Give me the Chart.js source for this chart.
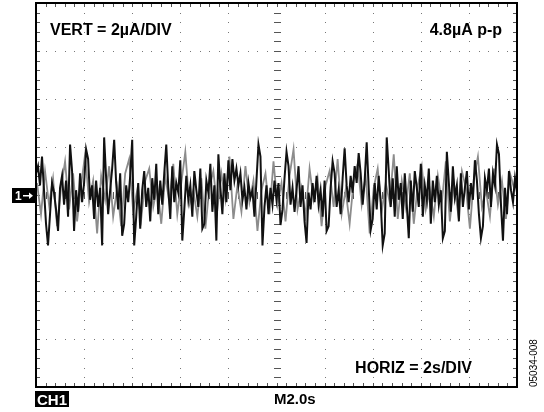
<!DOCTYPE html>
<html>
<head>
<meta charset="utf-8">
<script src="https://cdn.jsdelivr.net/npm/chart.js@4.4.0/dist/chart.umd.min.js"></script>
<style>
  html, body { margin: 0; padding: 0; background: #fff; }
  #wrap { width: 544px; height: 412px; position: relative; }
</style>
</head>
<body>
<div id="wrap"><canvas id="scope" width="544" height="412"></canvas></div>
<script>
// Trace samples in uA (2uA per division), 241 samples across 10 divisions (20 s)
const noiseUA = [
  0.9, 1.2, 0.4, 1.6, 0.2, -1.2, -2.1, -0.8, 0.5, 0.1,
  -0.6, -1.5, 0.3, 0.8, -0.4, 0.6, -0.9, 2.1, 1.0, -1.5,
  0.2, -0.7, 0.9, -0.3, 0.5, 1.9, 1.5, -0.2, 0.4, -1.0,
  0.6, -0.5, 0.3, -2.1, 2.4, 0.7, -0.8, 0.2, 1.1, 2.3,
  0.5, -0.6, 0.9, -1.7, -1.2, 0.4, -0.3, 0.8, 2.3, -2.1,
  -0.9, 0.5, -1.4, 0.2, 1.0, -0.5, 0.3, -1.1, 0.7, -0.2,
  1.3, -0.8, 0.6, -0.4, 0.9, 2.1, 0.3, -1.0, 1.2, -0.3,
  0.5, 0.1, 1.45, -1.9, -0.6, 0.8, -0.2, 0.4, -0.9, 1.0,
  0.2, -0.5, 1.1, -1.4, -1.2, 0.6, 0.1, 1.3, -0.7, 0.4,
  -1.9, 1.7, 0.3, -0.8, 0.9, -0.3, 1.45, 0.2, 1.5, 0.6,
  1.1, 0.4, 0.9, -0.2, 0.3, -0.6, 0.5, -0.1, 0.2, -0.9,
  0.6, 2.1, 1.6, -2.1, -0.5, 0.4, -0.8, 0.3, -0.4, 0.6,
  -0.2, 0.5, -1.25, -0.6, 0.7, 1.8, 1.2, -0.4, 0.3, -0.7,
  0.2, 1.2, -0.5, 0.4, -1.1, -2.0, 0.1, -0.6, 0.5, -0.3,
  0.8, -0.4, 0.2, -0.9, 0.6, -1.5, -1.3, 0.3, 1.4, 0.9,
  -0.5, 0.2, -0.8, 0.7, 1.95, 0.4, -0.3, 0.8, 0.1, 1.2,
  0.5, 1.75, 0.9, -0.4, 0.6, 2.2, 0.3, -1.45, -1.0, 0.5,
  -0.6, 0.8, -0.3, -2.1, -1.6, 2.4, 1.0, -0.5, 0.7, -0.9,
  1.2, -0.2, 0.5, -1.0, 0.9, -0.4, -1.8, 0.6, -0.7, 1.0,
  0.3, -0.5, 1.3, -0.9, 0.4, -0.2, 1.1, -1.2, 0.6, -0.3,
  0.8, -0.4, 0.2, -1.8, -1.5, 1.8, 0.5, -0.7, 1.2, -0.1,
  0.4, -1.1, 0.9, -0.5, 0.3, 1.0, -0.6, 0.5, -0.2, 1.45,
  0.6, -0.8, -1.8, -1.3, 0.7, 0.2, 1.1, -0.5, 0.9, 0.4,
  2.1, 1.7, -0.4, -1.9, 0.3, -0.8, 1.0, 0.2, -0.3, 0.7,
  0.1
];

// lighter (persistence) trace, 121 samples, half-sample offset
const ghostUA = [
  0.5, -0.8, 1.0, -0.4, 0.7, -1.3, 0.3, 1.4, -0.6, 0.9,
  -1.1, 0.4, 1.7, -0.3, 0.6, -1.6, 0.8, -0.2, 1.2, -0.9,
  0.3, -1.3, 0.9, 1.5, -0.7, 0.2, -1.0, 0.6, 1.1, -0.5,
  0.4, -1.2, 0.8, -0.3, 1.3, -0.8, 0.5, 1.8, -0.4, 0.2,
  -0.9, 0.7, -1.4, 0.3, 1.0, -0.6, 0.9, -0.2, 1.6, -1.0,
  0.4, -0.7, 1.2, -0.3, 0.6, -1.5, 0.2, 0.9, -0.8, 1.4,
  -0.4, 0.5, -1.1, 0.8, 1.9, -0.6, 0.3, -0.9, 1.1, -0.2,
  0.7, -1.3, 0.4, 1.0, -0.5, 1.5, -0.8, 0.2, -1.2, 0.6,
  1.3, -0.4, 0.8, -1.6, 0.3, 1.1, -0.7, 0.5, -0.3, 1.7,
  -1.0, 0.6, -0.5, 0.9, -1.2, 0.4, 1.2, -0.6, 0.2, -0.9,
  0.8, -0.3, 1.4, -1.1, 0.5, -0.7, 1.0, 0.3, -1.4, 0.7,
  1.6, -0.5, 0.2, -0.9, 1.1, -0.4, 0.6, -1.0, 0.9, 0.3,
  0.5
];

// Screen settings
const timeSpanS = 20;        // 10 div x 2 s
const vertSpanUA = [-8, 8];  // 8 div x 2 uA
const divX = 2, divY = 2;
const minorPerDiv = 5;

const labels = {
  vert: 'VERT = 2\u00b5A/DIV',
  pp: '4.8\u00b5A p-p',
  horiz: 'HORIZ = 2s/DIV',
  time: 'M2.0s',
  ch: 'CH1',
  marker: '1',
  fig: '05034-008'
};

const sampleS = timeSpanS / (noiseUA.length - 1);
const tracePoints = noiseUA.map((v, i) => ({ x: i * sampleS, y: v }));
const ghostPoints = ghostUA.map((v, i) => ({ x: (2 * i + 0.5) * sampleS, y: v }));

// graticule: dotted grid, centre cross ticks, edge ticks, labels
const graticule = {
  id: 'graticule',
  beforeDatasetsDraw(chart) {
    const { ctx, chartArea: a, scales: { x, y } } = chart;
    ctx.save();
    ctx.fillStyle = '#777';
    const xs = [], ys = [];
    for (let v = 0; v <= timeSpanS + 1e-9; v += divX / minorPerDiv) xs.push(x.getPixelForValue(v));
    for (let v = vertSpanUA[0]; v <= vertSpanUA[1] + 1e-9; v += divY / minorPerDiv) ys.push(y.getPixelForValue(v));
    for (let v = divX; v < timeSpanS; v += divX) {
      const px = Math.round(x.getPixelForValue(v));
      ys.forEach(py => ctx.fillRect(px, Math.round(py), 1, 1));
    }
    for (let v = vertSpanUA[0] + divY; v < vertSpanUA[1]; v += divY) {
      const py = Math.round(y.getPixelForValue(v));
      xs.forEach(px => ctx.fillRect(Math.round(px), py, 1, 1));
    }
    const cx = Math.round(x.getPixelForValue(timeSpanS / 2));
    const cy = Math.round(y.getPixelForValue(0));
    ctx.fillStyle = '#555';
    ys.forEach(py => ctx.fillRect(cx - 3, Math.round(py), 7, 1));
    xs.forEach(px => ctx.fillRect(Math.round(px), cy - 3, 1, 7));
    xs.forEach(px => {
      ctx.fillRect(Math.round(px), a.top, 1, 4);
      ctx.fillRect(Math.round(px), a.bottom - 4, 1, 4);
    });
    ys.forEach(py => {
      ctx.fillRect(a.left, Math.round(py), 4, 1);
      ctx.fillRect(a.right - 4, Math.round(py), 4, 1);
    });
    ctx.restore();
  },
  afterDraw(chart) {
    const { ctx, chartArea: a, scales: { y } } = chart;
    ctx.save();
    ctx.strokeStyle = '#000';
    ctx.lineWidth = 2;
    ctx.strokeRect(a.left, a.top, a.right - a.left, a.bottom - a.top);

    ctx.fillStyle = '#000';
    ctx.font = 'bold 16px "Liberation Sans", Arial, sans-serif';
    ctx.textBaseline = 'alphabetic';
    ctx.textAlign = 'left';
    ctx.fillText(labels.vert, 50, 35);
    ctx.textAlign = 'right';
    ctx.fillText(labels.pp, 502, 35);
    ctx.fillText(labels.horiz, 472, 373);
    ctx.textAlign = 'left';
    ctx.font = 'bold 15px "Liberation Sans", Arial, sans-serif';
    ctx.fillText(labels.time, 274, 404);

    // CH1 badge
    ctx.fillRect(35, 391, 34, 16);
    ctx.fillStyle = '#fff';
    ctx.fillText(labels.ch, 37, 405);

    // channel ground marker
    const gy = Math.round(y.getPixelForValue(0));
    ctx.fillStyle = '#000';
    ctx.fillRect(12, gy - 7, 23, 15);
    ctx.fillStyle = '#fff';
    ctx.font = 'bold 12px "Liberation Sans", Arial, sans-serif';
    ctx.fillText(labels.marker, 15, gy + 5);
    ctx.fillRect(23, gy, 8, 1.5);
    ctx.beginPath();
    ctx.moveTo(33, gy + 0.75);
    ctx.lineTo(29, gy - 2.5);
    ctx.lineTo(29, gy + 4);
    ctx.closePath();
    ctx.fill();

    // figure number
    ctx.fillStyle = '#000';
    ctx.font = '10px "Liberation Sans", Arial, sans-serif';
    ctx.translate(537, 387);
    ctx.rotate(-Math.PI / 2);
    ctx.textAlign = 'left';
    ctx.fillText(labels.fig, 0, 0);
    ctx.restore();
  }
};

new Chart(document.getElementById('scope'), {
  type: 'line',
  data: {
    datasets: [
      {
        data: tracePoints,
        borderColor: '#111',
        borderWidth: 2,
        pointRadius: 0,
        tension: 0,
        order: 0
      },
      {
        data: ghostPoints,
        borderColor: '#8c8c8c',
        borderWidth: 1.8,
        pointRadius: 0,
        tension: 0,
        order: 1
      }
    ]
  },
  options: {
    responsive: false,
    animation: false,
    events: [],
    layout: { padding: { left: 36, right: 27, top: 3, bottom: 25 } },
    plugins: { legend: { display: false }, tooltip: { enabled: false } },
    scales: {
      x: { type: 'linear', min: 0, max: timeSpanS, display: false },
      y: { type: 'linear', min: vertSpanUA[0], max: vertSpanUA[1], display: false }
    }
  },
  plugins: [graticule]
});
</script>
</body>
</html>
